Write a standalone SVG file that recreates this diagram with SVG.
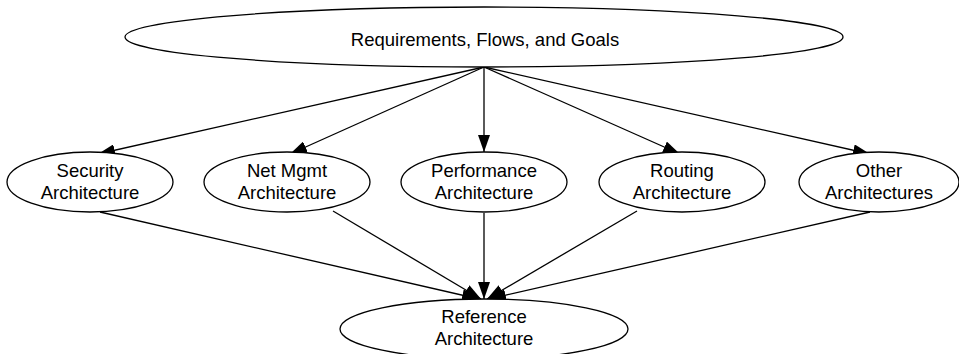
<svg xmlns="http://www.w3.org/2000/svg" width="959" height="354" viewBox="0 0 959 354">
<style>
.n ellipse{fill:#fff;stroke:#000;stroke-width:1.3}
text{font-family:"Liberation Sans",Arial,sans-serif;font-size:18.5px;fill:#000;text-anchor:middle}
.e line{stroke:#000;stroke-width:1.3;marker-end:url(#ah)}
</style>
<defs>
<marker id="ah" markerUnits="userSpaceOnUse" markerWidth="18" markerHeight="12" refX="17" refY="6" orient="auto">
<path d="M0,0 L17,6 L0,12 Z" fill="#000"/>
</marker>
</defs>
<rect width="959" height="354" fill="#fff"/>
<g class="e" id="connectors">
<line x1="484" y1="67" x2="98" y2="154"/>
<line x1="484" y1="67" x2="290" y2="154"/>
<line x1="484" y1="67" x2="484" y2="152"/>
<line x1="484" y1="67" x2="680" y2="154"/>
<line x1="484" y1="67" x2="870" y2="154"/>
<line x1="100" y1="212" x2="479" y2="299"/>
<line x1="333" y1="211" x2="481" y2="299"/>
<line x1="484" y1="213" x2="484" y2="299"/>
<line x1="637" y1="211" x2="487" y2="299"/>
<line x1="870" y1="212" x2="489" y2="299"/>
</g>
<g class="n" id="goals"><ellipse cx="484" cy="37" rx="359" ry="30"/><text x="485" y="46">Requirements, Flows, and Goals</text></g>
<g class="n" id="security"><ellipse cx="90" cy="182" rx="83" ry="30"/><text x="90" y="177">Security</text><text x="90" y="199">Architecture</text></g>
<g class="n" id="netmgmt"><ellipse cx="287" cy="182" rx="83" ry="30"/><text x="287" y="177">Net Mgmt</text><text x="287" y="199">Architecture</text></g>
<g class="n" id="performance"><ellipse cx="484" cy="182" rx="83" ry="30"/><text x="484" y="177">Performance</text><text x="484" y="199">Architecture</text></g>
<g class="n" id="routing"><ellipse cx="682" cy="182" rx="83" ry="30"/><text x="682" y="177">Routing</text><text x="682" y="199">Architecture</text></g>
<g class="n" id="other"><ellipse cx="879" cy="182" rx="80" ry="30"/><text x="879" y="177">Other</text><text x="879" y="199">Architectures</text></g>
<g class="n" id="reference"><ellipse cx="484" cy="329" rx="144" ry="30"/><text x="484" y="323">Reference</text><text x="484" y="345">Architecture</text></g>
</svg>
